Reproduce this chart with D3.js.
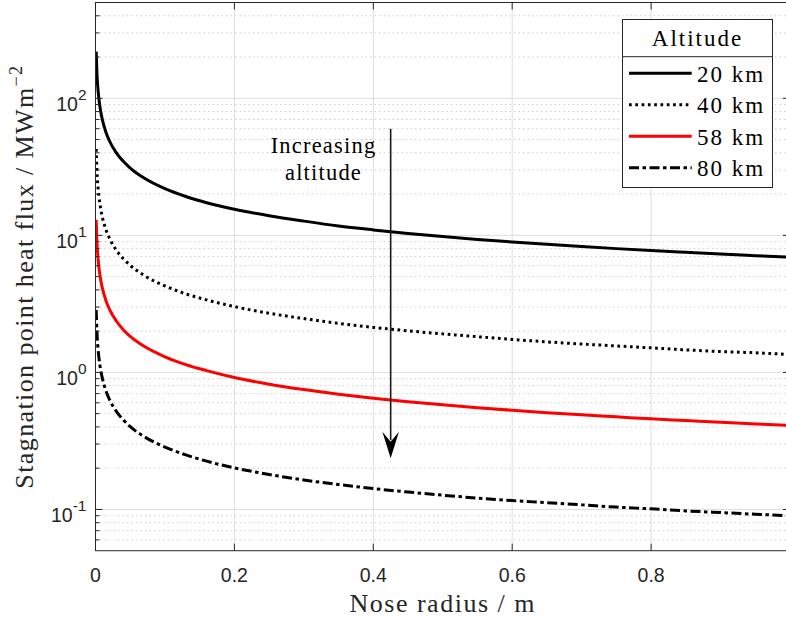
<!DOCTYPE html>
<html>
<head>
<meta charset="utf-8">
<script src="https://cdn.jsdelivr.net/npm/d3@7"></script>
<style>
  body { margin: 0; background: #fff; }
  svg { display: block; }
</style>
</head>
<body>
<div id="chart"></div>
<script>
// nose radius (m) and heat flux (MW/m^2)
var radius = [0.001, 0.002, 0.003, 0.005, 0.0075, 0.01, 0.015, 0.02, 0.03, 0.04, 0.05, 0.07,
    0.1, 0.13, 0.16, 0.2, 0.25, 0.3, 0.35, 0.4, 0.45, 0.5, 0.55, 0.6, 0.65, 0.7, 0.75,
    0.8, 0.85, 0.9, 0.95, 1.0];
var flux20 = [219, 155, 126.5, 98.0, 80.0, 69.3, 56.6, 49.0, 40.0, 34.7, 31.0, 26.2,
    21.9, 19.2, 17.3, 15.5, 13.9, 12.7, 11.7, 10.96, 10.33, 9.80, 9.34, 8.95, 8.60, 8.28, 8.00,
    7.75, 7.52, 7.30, 7.11, 6.93];
var flux40 = [42.7, 30.2, 24.6, 19.1, 15.6, 13.5, 11.0, 9.55, 7.79, 6.75, 6.04, 5.10,
    4.27, 3.74, 3.38, 3.02, 2.70, 2.47, 2.28, 2.13, 2.01, 1.91, 1.82, 1.74, 1.67, 1.61, 1.56,
    1.51, 1.46, 1.42, 1.39, 1.35];
var flux58 = [12.96, 9.17, 7.49, 5.80, 4.73, 4.10, 3.35, 2.90, 2.37, 2.05, 1.83, 1.55,
    1.30, 1.14, 1.03, 0.917, 0.82, 0.749, 0.693, 0.648, 0.611, 0.580, 0.553, 0.529, 0.508, 0.490, 0.474,
    0.458, 0.445, 0.432, 0.421, 0.41];
var flux80 = [2.85, 2.01, 1.64, 1.27, 1.04, 0.90, 0.735, 0.636, 0.520, 0.45, 0.402, 0.340,
    0.285, 0.250, 0.225, 0.201, 0.18, 0.164, 0.152, 0.142, 0.134, 0.127, 0.121, 0.116, 0.112, 0.108, 0.104,
    0.101, 0.0976, 0.0949, 0.0923, 0.09];

var altitudes = ["20 km", "40 km", "58 km", "80 km"];
var xTicks = [0, 0.2, 0.4, 0.6, 0.8];
var xTickLabels = ["0", "0.2", "0.4", "0.6", "0.8"];
var yDecades = [0.1, 1, 10, 100];
var yDecadeExp = ["-1", "0", "1", "2"];

var width = 786, height = 619;
var plot = { left: 95.5, right: 790, top: 2.5, bottom: 550.7 };
var axisColor = "#262626";
var serif = "'Liberation Serif'";
var sans = "'Liberation Sans'";

var svg = d3.select("#chart").append("svg")
    .attr("width", width)
    .attr("height", height);

var xScale = d3.scaleLinear().domain([0, 1]).range([plot.left, plot.right]);
var yScale = d3.scaleLog().domain([0.05, 500]).range([plot.bottom, plot.top]);

// minor y values (2..9 of each decade) inside the domain
var yMinor = [];
[0.01, 0.1, 1, 10, 100].forEach(function (d) {
    for (var k = 2; k <= 9; k++) {
        var v = +(d * k).toPrecision(3);
        if (v > 0.05 && v < 500) yMinor.push(v);
    }
});

// grid
var grid = svg.append("g");
grid.selectAll("line.yminor")
    .data(yMinor).enter().append("line")
    .attr("x1", plot.left).attr("x2", plot.right)
    .attr("y1", d => yScale(d)).attr("y2", d => yScale(d))
    .attr("stroke", "#cdcdcd").attr("stroke-width", 1)
    .attr("stroke-dasharray", "1.5,3");
grid.selectAll("line.ymajor")
    .data(yDecades).enter().append("line")
    .attr("x1", plot.left).attr("x2", plot.right)
    .attr("y1", d => yScale(d)).attr("y2", d => yScale(d))
    .attr("stroke", "#dedede").attr("stroke-width", 1);
grid.selectAll("line.xmajor")
    .data(xTicks.filter(d => d > 0)).enter().append("line")
    .attr("y1", plot.top).attr("y2", plot.bottom)
    .attr("x1", d => xScale(d)).attr("x2", d => xScale(d))
    .attr("stroke", "#dedede").attr("stroke-width", 1);

// curves
var series = [
    { name: altitudes[0], values: flux20, color: "#000", dash: null },
    { name: altitudes[1], values: flux40, color: "#000", dash: "2.7,3.6" },
    { name: altitudes[2], values: flux58, color: "#ff0000", dash: null },
    { name: altitudes[3], values: flux80, color: "#000", dash: "10,3.5,3.5,3.5" }
];

svg.append("clipPath").attr("id", "clip")
    .append("rect")
    .attr("x", plot.left).attr("y", plot.top)
    .attr("width", plot.right - plot.left).attr("height", plot.bottom - plot.top);

var line = d3.line()
    .x(d => xScale(d[0]))
    .y(d => yScale(d[1]))
    .curve(d3.curveMonotoneX);

svg.append("g").attr("clip-path", "url(#clip)")
    .selectAll("path")
    .data(series).enter().append("path")
    .attr("d", s => line(radius.map((r, i) => [r, s.values[i]])))
    .attr("fill", "none")
    .attr("stroke", s => s.color)
    .attr("stroke-width", 3)
    .attr("stroke-dasharray", s => s.dash);

// axes: box with inward ticks
var axes = svg.append("g");
axes.append("rect")
    .attr("x", plot.left).attr("y", plot.top)
    .attr("width", plot.right - plot.left).attr("height", plot.bottom - plot.top)
    .attr("fill", "none").attr("stroke", axisColor).attr("stroke-width", 1);

xTicks.forEach(function (t) {
    var xp = xScale(t);
    axes.append("line").attr("x1", xp).attr("x2", xp)
        .attr("y1", plot.bottom).attr("y2", plot.bottom - 7)
        .attr("stroke", axisColor);
    axes.append("line").attr("x1", xp).attr("x2", xp)
        .attr("y1", plot.top).attr("y2", plot.top + 7)
        .attr("stroke", axisColor);
});
yDecades.forEach(function (t) {
    var yp = yScale(t);
    axes.append("line").attr("x1", plot.left).attr("x2", plot.left + 7)
        .attr("y1", yp).attr("y2", yp).attr("stroke", axisColor);
    axes.append("line").attr("x1", plot.right).attr("x2", plot.right - 7)
        .attr("y1", yp).attr("y2", yp).attr("stroke", axisColor);
});
yMinor.forEach(function (t) {
    var yp = yScale(t);
    axes.append("line").attr("x1", plot.left).attr("x2", plot.left + 4)
        .attr("y1", yp).attr("y2", yp).attr("stroke", axisColor);
    axes.append("line").attr("x1", plot.right).attr("x2", plot.right - 4)
        .attr("y1", yp).attr("y2", yp).attr("stroke", axisColor);
});

// tick labels
axes.selectAll("text.xt")
    .data(xTicks).enter().append("text")
    .attr("x", d => xScale(d))
    .attr("y", 581.7)
    .attr("text-anchor", "middle")
    .style("font-family", sans)
    .style("font-size", "19.5px")
    .attr("fill", axisColor)
    .text((d, i) => xTickLabels[i]);

var yt = axes.selectAll("text.yt")
    .data(yDecades).enter().append("text")
    .attr("x", 86.5)
    .attr("y", d => yScale(d) + 12.3)
    .attr("text-anchor", "end")
    .style("font-family", sans)
    .style("font-size", "19.5px")
    .attr("fill", axisColor);
yt.append("tspan").text("10");
yt.append("tspan")
    .style("font-size", "15.5px")
    .attr("dy", -10.8)
    .text((d, i) => yDecadeExp[i]);

// axis titles
svg.append("text")
    .attr("x", (plot.left + plot.right) / 2)
    .attr("y", 611.5)
    .attr("text-anchor", "middle")
    .style("font-family", serif)
    .style("font-size", "26px")
    .style("letter-spacing", "1.5px")
    .attr("fill", axisColor)
    .text("Nose radius / m");

var ylab = svg.append("text")
    .attr("transform", "translate(33," + ((plot.top + plot.bottom) / 2) + ") rotate(-90)")
    .attr("text-anchor", "middle")
    .style("font-family", serif)
    .style("font-size", "26px")
    .style("letter-spacing", "1.4px")
    .attr("fill", axisColor);
ylab.append("tspan").text("Stagnation point heat flux / MWm");
ylab.append("tspan").attr("dy", -11).style("font-size", "18px").text("\u22122");

// annotation arrow (data coordinates)
var arrowX = xScale(0.425);
var arrowTop = yScale(60);
var arrowTip = yScale(0.236);
var ann = svg.append("g");
ann.append("line")
    .attr("x1", arrowX).attr("x2", arrowX)
    .attr("y1", arrowTop).attr("y2", arrowTip - 18)
    .attr("stroke", "#1a1a1a").attr("stroke-width", 1.6);
ann.append("path")
    .attr("d", "M" + arrowX + "," + arrowTip +
        " L" + (arrowX - 8.3) + "," + (arrowTip - 26.6) +
        " L" + arrowX + "," + (arrowTip - 16.6) +
        " L" + (arrowX + 8.3) + "," + (arrowTip - 26.6) + " Z")
    .attr("fill", "#000");
["Increasing", "altitude"].forEach(function (t, i) {
    ann.append("text")
        .attr("x", 323.5).attr("y", 153.3 + i * 26.7)
        .attr("text-anchor", "middle")
        .style("font-family", serif)
        .style("font-size", "22.5px")
        .style("letter-spacing", "1.2px")
        .attr("fill", "#000")
        .text(t);
});

// legend
var lg = svg.append("g");
var lgBox = { x: 622.5, y: 19.5, w: 150, h: 168, sep: 56.7 };
lg.append("rect")
    .attr("x", lgBox.x).attr("y", lgBox.y)
    .attr("width", lgBox.w).attr("height", lgBox.h)
    .attr("fill", "#fff").attr("stroke", axisColor).attr("stroke-width", 1);
lg.append("line")
    .attr("x1", lgBox.x).attr("x2", lgBox.x + lgBox.w)
    .attr("y1", lgBox.sep).attr("y2", lgBox.sep)
    .attr("stroke", axisColor).attr("stroke-width", 1);
lg.append("text")
    .attr("x", lgBox.x + lgBox.w / 2).attr("y", 45.7)
    .attr("text-anchor", "middle")
    .style("font-family", serif)
    .style("font-size", "23px")
    .style("letter-spacing", "2px")
    .attr("fill", "#000")
    .text("Altitude");
var entry = lg.selectAll("g.entry")
    .data(series).enter().append("g")
    .attr("transform", (d, i) => "translate(0," + (73.3 + i * 31.5) + ")");
entry.append("line")
    .attr("x1", 629).attr("x2", 691.7)
    .attr("y1", 0).attr("y2", 0)
    .attr("stroke", s => s.color)
    .attr("stroke-width", 3)
    .attr("stroke-dasharray", s => s.dash);
entry.append("text")
    .attr("x", 697).attr("y", 8.4)
    .style("font-family", serif)
    .style("font-size", "23px")
    .style("letter-spacing", "2px")
    .attr("fill", "#000")
    .text(s => s.name);
</script>
</body>
</html>
